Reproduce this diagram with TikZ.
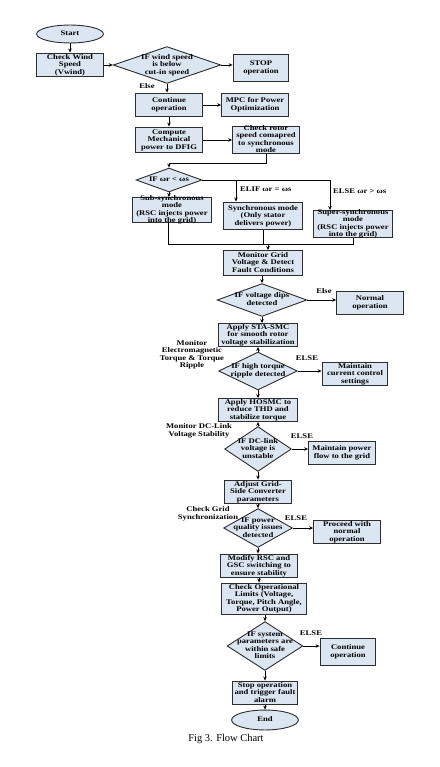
\documentclass[tikz,border=0pt]{standalone}
\usepackage{fontspec}
\setmainfont{Liberation Serif}[FakeStretch=1.2]
\newfontfamily\capfont{Liberation Serif}
\usetikzlibrary{shapes.geometric,arrows.meta}
\definecolor{boxfill}{RGB}{220,230,242}
\definecolor{boxline}{RGB}{45,45,45}
\newcommand{\dtxt}[1]{\smash{\makebox[0pt][c]{\raisebox{-1.8pt}{\begin{tabular}{@{}c@{}}#1\end{tabular}}}}}
\begin{document}
\begin{tikzpicture}[x=1bp,y=-1bp,
  every node/.style={font=\fontsize{7.2}{7.5}\selectfont\bfseries},
  box/.style={rectangle, draw=boxline, fill=boxfill, line width=1bp, inner sep=0pt},
  dia/.style={diamond, draw=boxline, fill=boxfill, line width=0.9bp, inner sep=0pt},
  oval/.style={ellipse, draw=boxline, fill=boxfill, line width=0.9bp, inner sep=0pt},
  arr/.style={-{Stealth[length=4bp,width=3.5bp]}, line width=0.7bp},
  ln/.style={line width=0.7bp},
  lbl/.style={align=center, inner sep=0pt}]
\useasboundingbox (0,0) rectangle (440,767);
\fill[white] (0,0) rectangle (440,767);

% nodes
\node[oval, minimum width=67, minimum height=18] (start) at (70,34) {\dtxt{Start}};
\node[box, minimum width=67, minimum height=24] (wind) at (70,65) {\dtxt{Check Wind\\Speed\\(Vwind)}};
\node[dia, minimum width=108, minimum height=37] (d1) at (167,65) {\dtxt{IF wind speed\\is below\\cut-in speed}};
\node[box, minimum width=56, minimum height=27] (stop) at (261,68) {\dtxt{STOP\\operation}};
\node[box, minimum width=67, minimum height=24] (cont) at (169,105) {\dtxt{Continue\\operation}};
\node[box, minimum width=67, minimum height=24] (mpc) at (255,105) {\dtxt{MPC for Power\\Optimization}};
\node[box, minimum width=67, minimum height=26] (comp) at (169,140) {\dtxt{Compute\\Mechanical\\power to DFIG}};
\node[box, minimum width=67, minimum height=27] (rotor) at (266,140) {\dtxt{Check rotor\\speed comapred\\to synchronous\\mode}};
\node[dia, minimum width=66, minimum height=24] (dmode) at (169,180) {\dtxt{IF ωr < ωs}};
\node[box, minimum width=80, minimum height=25] (sub) at (172,210) {\dtxt{Sub-synchronous\\mode\\(RSC injects power\\into the grid)}};
\node[box, minimum width=80, minimum height=28] (syn) at (263,216) {\dtxt{Synchronous mode\\(Only stator\\delivers power)}};
\node[box, minimum width=80, minimum height=27] (sup) at (353,224) {\dtxt{Super-synchronous\\mode\\(RSC injects power\\into the grid)}};
\node[box, minimum width=79, minimum height=25] (mon) at (263,263) {\dtxt{Monitor Grid\\Voltage \& Detect\\Fault Conditions}};
\node[dia, minimum width=90, minimum height=33] (d2) at (262,300) {\dtxt{IF voltage dips\\detected}};
\node[box, minimum width=67, minimum height=23] (norm) at (370,303) {\dtxt{Normal\\operation}};
\node[box, minimum width=79, minimum height=23] (sta) at (258,335) {\dtxt{Apply STA-SMC\\for smooth rotor\\voltage stabilization}};
\node[dia, minimum width=79, minimum height=38] (d3) at (258,371) {\dtxt{IF high torque\\ripple detected}};
\node[box, minimum width=66, minimum height=23] (mcc) at (355,374) {\dtxt{Maintain\\current control\\settings}};
\node[box, minimum width=79, minimum height=23] (hos) at (258,410) {\dtxt{Apply HOSMC to\\reduce THD and\\stabilize torque}};
\node[dia, minimum width=67, minimum height=45] (d4) at (258,449) {\dtxt{IF DC-link\\voltage is\\unstable}};
\node[box, minimum width=67, minimum height=23] (mpf) at (342,453) {\dtxt{Maintain power\\flow to the grid}};
\node[box, minimum width=67, minimum height=24] (adj) at (258,492) {\dtxt{Adjust Grid-\\Side Converter\\parameters}};
\node[dia, minimum width=69, minimum height=39] (d5) at (258,528) {\dtxt{IF power\\quality issues\\detected}};
\node[box, minimum width=67, minimum height=24] (pro) at (347,532) {\dtxt{Proceed with\\normal\\operation}};
\node[box, minimum width=77, minimum height=24] (mod) at (259,566) {\dtxt{Modify RSC and\\GSC switching to\\ensure stability}};
\node[box, minimum width=86, minimum height=32] (ops) at (264,599) {\dtxt{Check Operational\\Limits (Voltage,\\Torque, Pitch Angle,\\Power Output)}};
\node[dia, minimum width=76, minimum height=49] (d6) at (265,646) {\dtxt{IF system\\parameters are\\within safe\\limits}};
\node[box, minimum width=56, minimum height=27] (con) at (348,652) {\dtxt{Continue\\operation}};
\node[box, minimum width=66, minimum height=24] (stp) at (265,693) {\dtxt{Stop operation\\and trigger fault\\alarm}};
\node[oval, minimum width=67, minimum height=20] (end) at (265,720) {\dtxt{End}};

% labels
\node[lbl] (lelse1) at (147,86) {Else};
\node[lbl, anchor=west] (lelif) at (240,189) {ELIF ωr = ωs};
\node[lbl, anchor=west] (lelse2) at (333,191) {ELSE ωr > ωs};
\node[lbl] (lelse3) at (324,291) {Else};
\node[lbl] (lmon1) at (192,355) {Monitor\\Electromagnetic\\Torque \& Torque\\Ripple};
\node[lbl] (lelse4) at (307,358) {ELSE};
\node[lbl] (lmon2) at (199,431) {Monitor DC-Link\\Voltage Stability};
\node[lbl] (lelse5) at (302,436) {ELSE};
\node[lbl] (lchk) at (208,514) {Check Grid\\Synchronization};
\node[lbl] (lelse6) at (296,518) {ELSE};
\node[lbl] (lelse7) at (311,633) {ELSE};
\node[lbl, font=\capfont\fontsize{10.5}{12}\selectfont] (cap) at (226,739) {Fig 3. Flow Chart};

% connectors
\draw[arr] (start) -- (wind);
\draw[arr] (wind) -- (d1);
\draw[arr] (d1.east) -- (d1.east -| stop.west);
\draw[arr] (d1.south) -- (d1.south |- cont.north);
\draw[arr] (cont.east) -- (mpc.west);
\draw[arr] (cont) -- (comp);
\draw[arr] (comp.east) -- (comp.east -| rotor.west);
\coordinate (rb) at (266,163);
\draw[arr] (rotor.south) -- (rb) -| (dmode.north);
\draw[arr] (dmode.south) -- (dmode.south |- sub.north);
\coordinate (br1) at (236,180);
\coordinate (br2) at (330,180);
\draw[ln] (dmode.east) -- (br2);
\draw[arr] (br1) -- (br1 |- syn.north);
\draw[arr] (br2) -- (br2 |- sup.north);
\coordinate (m1) at (168,244);
\coordinate (m2) at (263,244);
\coordinate (m3) at (353,244);
\coordinate (m0) at (268,244);
\draw[ln] (m1 |- sub.south) -- (m1) -- (m3) -- (m3 |- sup.south);
\draw[ln] (m2 |- syn.south) -- (m2);
\draw[arr] (m0) -- (m0 |- mon.north);
\draw[arr] (mon.south) -- (mon.south -| d2.north) -- (d2.north);
\draw[arr] (d2.east) -- (d2.east -| norm.west);
\draw[arr] (d2.south) -- (d2.south |- sta.north);
\draw[arr] (d3.north) -- (sta.south);
\draw[arr] (d3.east) -- (d3.east -| mcc.west);
\draw[arr] (d3.south) -- (hos.north);
\draw[arr] (d4.north) -- (hos.south);
\draw[arr] (d4.east) -- (d4.east -| mpf.west);
\draw[arr] (d4.south) -- (adj.north);
\draw[arr] (adj.south) -- (d5.north);
\draw[arr] (d5.east) -- (d5.east -| pro.west);
\draw[arr] (d5.south) -- (d5.south |- mod.north);
\draw[arr] (mod.south) -- (mod.south |- ops.north);
\draw[arr] (ops.south -| d6.north) -- (d6.north);
\draw[arr] (d6.east) -- (d6.east -| con.west);
\draw[arr] (d6.south) -- (stp.north);
\draw[arr] (stp.south) -- (end.north);
\end{tikzpicture}
\end{document}
